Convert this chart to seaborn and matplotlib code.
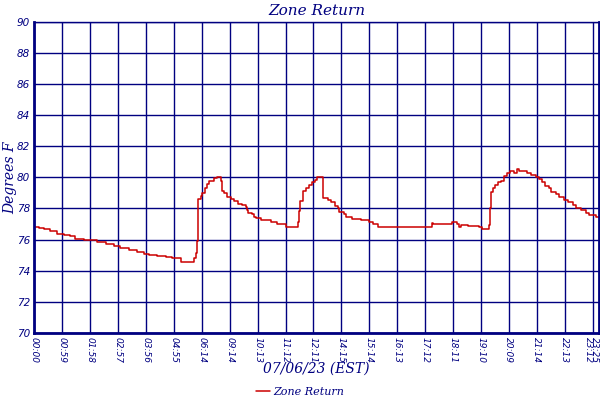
import matplotlib
matplotlib.use('Agg')
import matplotlib.pyplot as plt
import seaborn as sns
import pandas as pd

# sample index (roughly one per minute, with gaps) and zone return temperature
sample = [0, 10, 20, 33, 49, 63, 75, 87, 105, 116, 133, 151, 168, 182, 200, 218, 232, 242,
          259, 278, 292, 311, 334, 338, 341, 345, 346, 352, 355, 360, 366, 369, 380, 387,
          395, 396, 402, 408, 415, 422, 431, 440, 447, 450, 452, 461, 465, 468, 480, 500,
          512, 531, 555, 557, 560, 562, 567, 574, 581, 586, 593, 598, 611, 621, 628, 635,
          641, 644, 655, 658, 672, 690, 708, 715, 727, 840, 842, 882, 894, 898, 901, 916,
          940, 947, 958, 960, 963, 965, 969, 973, 980, 986, 993, 1000, 1006, 1014, 1021,
          1025, 1042, 1049, 1060, 1067, 1072, 1079, 1088, 1093, 1102, 1109, 1120, 1127,
          1138, 1145, 1155, 1166, 1173, 1187, 1193]
temp = [76.82, 76.75, 76.65, 76.52, 76.37, 76.32, 76.20, 76.06, 76.00, 75.94, 75.85, 75.72,
        75.60, 75.48, 75.35, 75.23, 75.10, 75.03, 74.97, 74.86, 74.84, 74.54, 74.54, 74.82,
        75.14, 75.90, 78.58, 78.80, 79.00, 79.30, 79.55, 79.76, 79.94, 80.00, 79.76, 79.12,
        78.97, 78.75, 78.62, 78.47, 78.32, 78.20, 78.09, 77.90, 77.70, 77.63, 77.48, 77.38,
        77.27, 77.12, 76.97, 76.84, 76.82, 77.15, 77.85, 78.50, 79.14, 79.35, 79.50, 79.68,
        79.85, 80.00, 78.65, 78.54, 78.39, 78.17, 78.00, 77.78, 77.63, 77.48, 77.31, 77.25,
        77.16, 76.99, 76.84, 77.05, 76.97, 77.10, 76.97, 76.84, 76.95, 76.88, 76.80, 76.71,
        76.67, 76.92, 78.06, 79.03, 79.29, 79.53, 79.68, 79.78, 80.10, 80.26, 80.39, 80.28,
        80.54, 80.43, 80.28, 80.15, 80.00, 79.89, 79.68, 79.46, 79.31, 79.08, 78.92, 78.71,
        78.56, 78.39, 78.24, 78.06, 77.91, 77.74, 77.57, 77.48, 77.42]

tick_labels = ['00:00', '00:59', '01:58', '02:57', '03:56', '04:55', '06:14', '09:14',
               '10:13', '11:12', '12:11', '14:15', '15:14', '16:13', '17:12', '18:11',
               '19:10', '20:09', '21:14', '22:13', '23:12', '23:25']

df = pd.DataFrame({'sample': sample, 'temp': temp})

navy = '#000080'
red = '#CC0000'

sns.set_style('white')
fig = plt.figure(figsize=(6, 4), dpi=100)
ax = fig.add_axes([0.057, 0.168, 0.941, 0.777])

sns.lineplot(data=df, x='sample', y='temp', ax=ax, color=red, linewidth=1.1,
             drawstyle='steps-post', estimator=None, label='Zone Return', legend=False)

ticks = [i * 59 for i in range(len(tick_labels) - 1)] + [sample[-1]]
ax.set_xticks(ticks)
ax.set_xticklabels(tick_labels, rotation=-90, fontsize=6.5, style='italic', color=navy)
# last label sits right on the plot edge, push it inward
ax.get_xticklabels()[-1].set_horizontalalignment('right')
ax.get_xticklabels()[-2].set_horizontalalignment('right')
ax.set_xlim(0, sample[-1])
ax.set_ylim(70, 90)
ax.set_yticks(range(70, 91, 2))
ax.set_yticklabels([str(v) for v in range(70, 91, 2)], fontsize=7.5, style='italic', color=navy)
ax.tick_params(length=0, pad=3)

ax.grid(True, color=navy, linewidth=1.0)
ax.set_axisbelow(True)
for side in ['left', 'bottom', 'right']:
    ax.spines[side].set_color(navy)
    ax.spines[side].set_linewidth(2)
ax.spines['top'].set_color(navy)
ax.spines['top'].set_linewidth(1)

serif = {'family': 'DejaVu Serif', 'style': 'italic', 'color': navy}
ax.set_title('Zone Return', fontsize=11, pad=5, **serif)
ax.set_xlabel('07/06/23 (EST)', fontsize=10, **serif)
ax.xaxis.set_label_coords(0.5, -0.092)
ax.set_ylabel('Degrees F', fontsize=10, **serif)
ax.yaxis.set_label_coords(-0.030, 0.5)

handles, labels = ax.get_legend_handles_labels()
leg = fig.legend(handles, labels, loc='lower center', bbox_to_anchor=(0.5, -0.018),
                 frameon=False, handlelength=1.2, handletextpad=0.3,
                 prop={'family': 'DejaVu Serif', 'style': 'italic', 'size': 8})
for t in leg.get_texts():
    t.set_color(navy)

fig.savefig('out.png', dpi=100)
